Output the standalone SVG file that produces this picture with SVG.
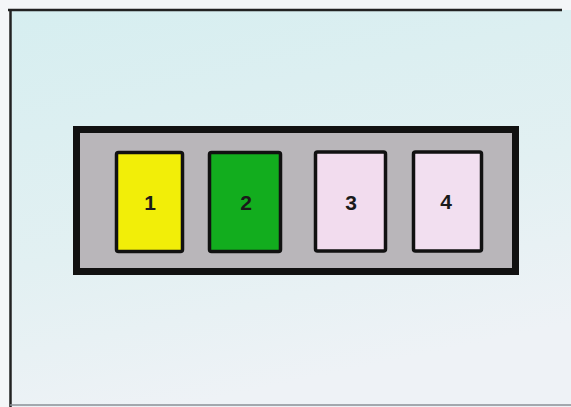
<svg xmlns="http://www.w3.org/2000/svg" width="571" height="407" viewBox="0 0 571 407">
<style>
.slot{stroke:#111;stroke-width:3.5}
.lbl{font-family:"Liberation Sans",Arial,sans-serif;font-weight:bold;font-size:21px;fill:#1a1a1a;text-anchor:middle}
</style>
<defs>
<linearGradient id="bg" x1="0" y1="0" x2="0.3" y2="1">
<stop offset="0" stop-color="#d6eef0"/>
<stop offset="0.6" stop-color="#e2f0f2"/>
<stop offset="1" stop-color="#eef2f6"/>
</linearGradient>
</defs>
<rect x="0" y="0" width="571" height="407" fill="#f4f6f8"/>
<rect x="10" y="10" width="561" height="397" fill="url(#bg)"/>
<line x1="8" y1="10" x2="562" y2="10" stroke="#222" stroke-width="2.5"/>
<line x1="10.5" y1="9" x2="10.5" y2="407" stroke="#222" stroke-width="2.5"/>
<line x1="10" y1="405" x2="571" y2="405" stroke="#8a8f96" stroke-width="1.5"/>
<g id="housing">
<rect x="76.5" y="129.5" width="439" height="142" fill="#b9b6ba" stroke="#111" stroke-width="7"/>
</g>
<g id="slot1">
<rect class="slot" x="116.5" y="152.5" width="66" height="99" rx="2" fill="#f2ee08"/>
<text class="lbl" x="150" y="210">1</text>
</g>
<g id="slot2">
<rect class="slot" x="209.5" y="152.5" width="71" height="99" rx="2" fill="#12ad1e"/>
<text class="lbl" x="246" y="210">2</text>
</g>
<g id="slot3">
<rect class="slot" x="315.5" y="152" width="70" height="99" rx="2" fill="#f2dcee"/>
<text class="lbl" x="351" y="210">3</text>
</g>
<g id="slot4">
<rect class="slot" x="413.5" y="152" width="68" height="99" rx="2" fill="#f2dff0"/>
<text class="lbl" x="446" y="209">4</text>
</g>
<g id="connectors"/>
</svg>
